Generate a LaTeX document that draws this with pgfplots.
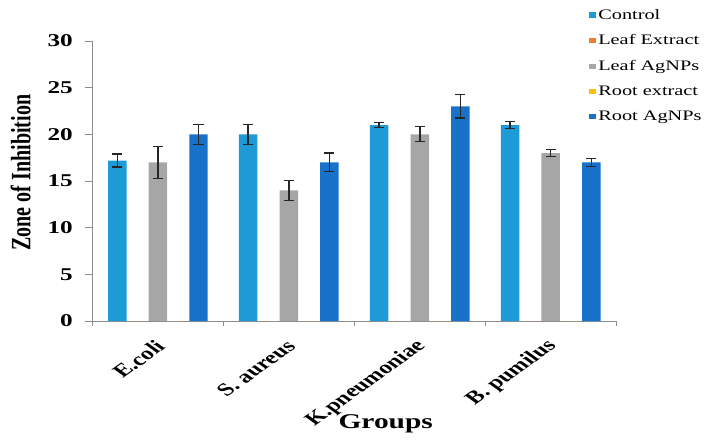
\documentclass[border=0pt]{standalone}
\usepackage{graphicx}
\usepackage{fontspec}
\setmainfont{Liberation Serif}
\usepackage{pgfplots}
\pgfplotsset{compat=1.18}

\definecolor{cControl}{RGB}{30,155,215}
\definecolor{cLeafExt}{RGB}{237,125,49}
\definecolor{cLeafAg}{RGB}{166,166,166}
\definecolor{cRootExt}{RGB}{255,192,0}
\definecolor{cRootAg}{RGB}{24,114,201}
\definecolor{axgray}{RGB}{140,140,140}

\begin{document}
% the reference is stretched sideways, so the picture is drawn narrow and widened
\scalebox{1.4}[1]{%
\begin{tikzpicture}
\begin{axis}[
    scale only axis,
    width=374pt,
    height=280pt,
    ybar=1.3pt,
    bar width=13.2pt,
    xmin=-0.5, xmax=3.5,
    ymin=0, ymax=30,
    ytick={0,5,...,30},
    xtick={-0.5,0.5,1.5,2.5,3.5},
    x tick label as interval,
    xticklabels={E.coli,S. aureus,K.pneumoniae,B. pumilus},
    axis x line*=bottom,
    axis y line*=left,
    axis line style={-,axgray,line width=0.8pt},
    major tick style={axgray,line width=0.8pt},
    tick align=outside,
    major tick length=5pt,
    ticklabel style={font=\fontsize{18}{21}\selectfont\bfseries},
    /pgf/number format/assume math mode=true,
    yticklabel style={xshift=-5.5pt},
    xticklabel style={yshift=-15pt,xshift=4pt,rotate=45,anchor=east},
    ylabel={Zone of Inhibition},
    xlabel={Groups},
    ylabel style={font=\fontsize{20}{24}\selectfont\bfseries,at={(axis description cs:-0.137,0.53)},anchor=center},
    xlabel style={font=\fontsize{21}{24}\selectfont\bfseries,at={(axis description cs:0.56,-0.365)},anchor=center},
    legend style={at={(rel axis cs:0.948,1.12)},anchor=north west,draw=none,fill=none,
        font=\fontsize{14.5}{16}\selectfont,row sep=11pt,inner sep=0pt,
        nodes={inner sep=1.5pt}},
    legend cell align=left,
    legend image code/.code={\fill[#1] (-3pt,-2.7pt) rectangle (2pt,2.7pt);},
    error bars/y dir=both,
    error bars/y explicit,
    error bars/error bar style={line width=1.1pt,color=black!85},
    error bars/error mark options={rotate=90,mark size=3.6pt,line width=1.1pt,color=black!85},
]
\addplot[fill=cControl,draw=none] coordinates {
    (0,17.2) +- (0,0.7)
    (1,20) +- (0,1.1)
    (2,21) +- (0,0.3)
    (3,21) +- (0,0.4)};
\addlegendentry{Control}
\addplot[fill=cLeafExt,draw=none,error bars/y dir=none] coordinates {(0,0) (1,0) (2,0) (3,0)};
\addlegendentry{Leaf Extract}
\addplot[fill=cLeafAg,draw=none] coordinates {
    (0,17) +- (0,1.7)
    (1,14) +- (0,1.1)
    (2,20) +- (0,0.8)
    (3,18) +- (0,0.4)};
\addlegendentry{Leaf AgNPs}
\addplot[fill=cRootExt,draw=none,error bars/y dir=none] coordinates {(0,0) (1,0) (2,0) (3,0)};
\addlegendentry{Root extract}
\addplot[fill=cRootAg,draw=none] coordinates {
    (0,20) +- (0,1.1)
    (1,17) +- (0,1.0)
    (2,23) +- (0,1.25)
    (3,17) +- (0,0.4)};
\addlegendentry{Root AgNPs}
\coordinate (o) at (rel axis cs:0,0);
\end{axis}
\path (o) ++(-66pt,-121pt) rectangle ++(507pt,442pt);
\end{tikzpicture}}
\end{document}
